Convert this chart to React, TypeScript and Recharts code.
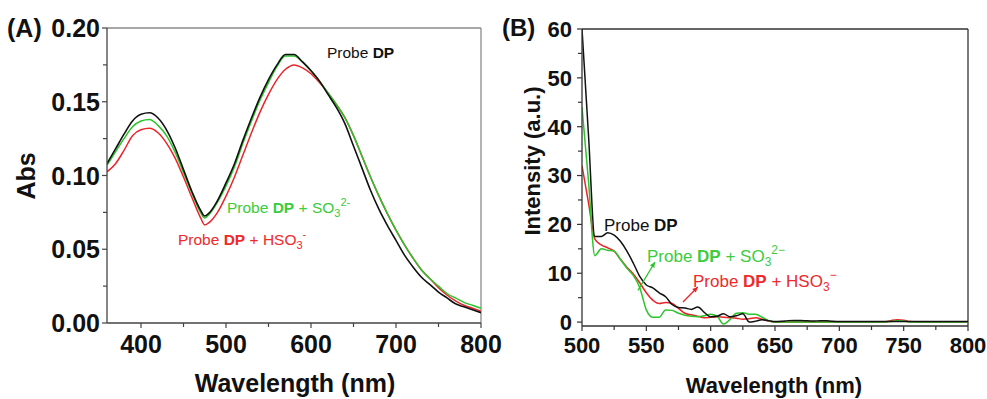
import React from "react";
import { LineChart, Line, XAxis, YAxis, ReferenceLine } from "recharts";

// ---------- Panel A: absorption ----------
const wavelengthA = [360, 370, 380, 390, 400, 410, 420, 430, 440, 450, 460, 470, 475, 480, 490, 500, 510, 520, 530, 540, 550, 560, 570, 580, 590, 600, 610, 620, 630, 640, 650, 660, 670, 680, 690, 700, 710, 720, 730, 740, 750, 760, 770, 780, 790, 800];
const absProbe = [0.108, 0.118, 0.128, 0.137, 0.1415, 0.1425, 0.139, 0.131, 0.119, 0.104, 0.089, 0.0765, 0.0725, 0.0745, 0.083, 0.095, 0.108, 0.124, 0.139, 0.153, 0.165, 0.175, 0.182, 0.182, 0.177, 0.171, 0.164, 0.155, 0.146, 0.135, 0.12, 0.105, 0.09, 0.077, 0.066, 0.056, 0.046, 0.038, 0.031, 0.026, 0.021, 0.017, 0.013, 0.011, 0.009, 0.007];
const absSO3 = [0.107, 0.116, 0.125, 0.133, 0.137, 0.138, 0.134, 0.127, 0.116, 0.102, 0.088, 0.075, 0.0712, 0.0735, 0.082, 0.093, 0.106, 0.122, 0.137, 0.151, 0.163, 0.174, 0.181, 0.181, 0.177, 0.171, 0.164, 0.156, 0.148, 0.139, 0.127, 0.113, 0.099, 0.086, 0.074, 0.063, 0.053, 0.044, 0.036, 0.03, 0.025, 0.02, 0.017, 0.014, 0.012, 0.01];
const absHSO3 = [0.1025, 0.108, 0.117, 0.127, 0.131, 0.132, 0.129, 0.122, 0.112, 0.099, 0.085, 0.0715, 0.0665, 0.068, 0.075, 0.086, 0.099, 0.114, 0.129, 0.143, 0.155, 0.165, 0.172, 0.175, 0.173, 0.169, 0.163, 0.156, 0.148, 0.139, 0.127, 0.113, 0.099, 0.086, 0.074, 0.063, 0.053, 0.044, 0.036, 0.03, 0.024, 0.019, 0.015, 0.012, 0.01, 0.008];

const majorXA = [400, 500, 600, 700, 800];
const minorXA = [450, 550, 650, 750];
const majorYA = [0, 0.05, 0.1, 0.15, 0.2];
const minorYA = [0.025, 0.075, 0.125, 0.175];

// ---------- Panel B: fluorescence ----------
const wavelengthB = [500, 505, 510, 515, 520, 525, 530, 535, 540, 545, 550, 555, 560, 565, 570, 575, 580, 585, 590, 595, 600, 605, 610, 615, 620, 625, 630, 635, 640, 645, 650, 655, 660, 665, 670, 675, 680, 685, 690, 695, 700, 705, 710, 715, 720, 725, 730, 735, 740, 745, 750, 755, 760, 765, 770, 775, 780, 785, 790, 795, 800];
const intProbe = [60, 38.5, 17.5, 17.5, 18.3, 17.8, 16.5, 14.5, 12.0, 9.3, 7.6, 7.0, 6.0, 5.2, 3.6, 3.0, 2.9, 2.6, 3.1, 2.0, 1.1, 1.2, 1.7, 1.1, 1.3, 1.7, 0.0, 0.2, 0.5, 0.3, 0.1, 0.15, 0.3, 0.35, 0.35, 0.25, 0.2, 0.3, 0.25, 0.15, 0.1, 0.1, 0.1, 0.1, 0.1, 0.1, 0.1, 0.1, 0.1, 0.1, 0.1, 0.1, 0.1, 0.1, 0.1, 0.1, 0.1, 0.1, 0.1, 0.1, 0.1];
const intSO3 = [44, 29, 13.6, 15.0, 14.7, 14.5, 12.8, 11.0, 9.5, 7.0, 2.5, 1.0, 1.0, 2.5, 2.4, 1.8, 1.4, 1.2, 1.1, 1.3, 1.6, 1.2, -0.4, 0.5, 1.8, 1.9, 1.6, 1.6, 1.0, 0.3, 0.0, 0.0, 0.0, 0.0, 0.0, 0.0, 0.0, 0.0, 0.0, 0.0, 0.0, 0.0, 0.0, 0.0, 0.0, 0.0, 0.0, 0.0, 0.1, 0.3, 0.2, 0.0, 0.0, 0.0, 0.0, 0.0, 0.0, 0.0, 0.0, 0.0, 0.0];
const intHSO3 = [32, 24.5, 17, 15.8, 15.2, 14.5, 12.8, 11.2, 9.8, 8.0, 6.0, 4.5, 3.8, 4.0, 3.8, 2.8, 1.8, 1.5, 1.2, 0.9, 1.0, 1.1, 1.0, 0.9, 0.8, 0.6, 0.7, 0.9, 0.6, 0.2, 0.0, 0.0, 0.0, 0.0, 0.0, 0.0, 0.0, 0.0, 0.0, 0.0, 0.0, 0.0, 0.0, 0.0, 0.0, 0.0, 0.0, 0.0, 0.3, 0.5, 0.4, 0.1, 0.0, 0.0, 0.0, 0.0, 0.0, 0.0, 0.0, 0.0, 0.0];

const majorXB = [500, 550, 600, 650, 700, 750, 800];
const minorXB = [525, 575, 625, 675, 725, 775];
const majorYB = [0, 10, 20, 30, 40, 50, 60];
const minorYB = [5, 15, 25, 35, 45, 55];

const dataA = wavelengthA.map((w, i) => ({ w, probe: absProbe[i], so3: absSO3[i], hso3: absHSO3[i] }));
const dataB = wavelengthB.map((w, i) => ({ w, probe: intProbe[i], so3: intSO3[i], hso3: intHSO3[i] }));

const FONT = "'Liberation Sans', Arial, sans-serif";
const BLACK = "#111111";
const GREEN = "#2bc42b";
const RED = "#e8252b";
const GREEN_T = "#3ccc3c";
const RED_T = "#ee2a2a";

const isIn = (arr: number[], v: number) => arr.some((a) => Math.abs(a - v) < 1e-9);

const makeXTick = (majors: number[], fontSize: number, labelOffset: number, color: string) => (props: any) => {
  const { x, y, payload } = props;
  const v = payload.value;
  const major = isIn(majors, v);
  return (
    <g>
      <line x1={x} y1={y} x2={x} y2={y + (major ? 5 : 4)} stroke={color} strokeWidth={1.2} />
      {major && (
        <text x={x} y={y + labelOffset} textAnchor="middle" fontSize={fontSize} fontWeight="bold" fontFamily={FONT} fill="#111">
          {v}
        </text>
      )}
    </g>
  );
};

const makeYTick = (majors: number[], fontSize: number, gap: number, color: string, fmt: (v: number) => string) => (props: any) => {
  const { x, y, payload } = props;
  const v = payload.value;
  const major = isIn(majors, v);
  return (
    <g>
      <line x1={x} y1={y} x2={x - (major ? 5 : 4)} y2={y} stroke={color} strokeWidth={1.2} />
      {major && (
        <text x={x - gap} y={y} dy="0.36em" textAnchor="end" fontSize={fontSize} fontWeight="bold" fontFamily={FONT} fill="#111">
          {fmt(v)}
        </text>
      )}
    </g>
  );
};

const ArrowShape = (color: string) => (props: any) => {
  const { x1, y1, x2, y2 } = props;
  if ([x1, y1, x2, y2].some((n) => typeof n !== "number")) return <g />;
  const ang = Math.atan2(y2 - y1, x2 - x1);
  const L = 6;
  const a1 = ang + Math.PI - 0.45;
  const a2 = ang + Math.PI + 0.45;
  return (
    <g>
      <line x1={x1} y1={y1} x2={x2} y2={y2} stroke={color} strokeWidth={1.3} />
      <path d={`M${x2},${y2} L${x2 + L * Math.cos(a1)},${y2 + L * Math.sin(a1)} L${x2 + L * Math.cos(a2)},${y2 + L * Math.sin(a2)} Z`} fill={color} />
    </g>
  );
};

const Sub = ({ children, size }: any) => (
  <tspan fontSize={size} dy={4}>{children}</tspan>
);

export default function App() {
  const axA = "#444";
  const axB = "#333";
  return (
    <div style={{ position: "absolute", left: 0, top: 0, width: 987, height: 399, background: "#fff", overflow: "hidden" }}>
      <div style={{ position: "absolute", left: 0, top: 0 }}>
        <LineChart width={530} height={399} data={dataA} margin={{ top: 28, right: 49, bottom: 36, left: 47 }}>
          <XAxis
            dataKey="w"
            type="number"
            domain={[360, 800]}
            ticks={[...majorXA, ...minorXA].sort((a, b) => a - b)}
            interval={0}
            height={40}
            tickSize={0}
            tickMargin={0}
            tickLine={false}
            axisLine={{ stroke: axA, strokeWidth: 1.3 }}
            tick={makeXTick(majorXA, 25, 30, axA)}
            allowDataOverflow
          />
          <YAxis
            type="number"
            domain={[0, 0.2]}
            ticks={[...majorYA, ...minorYA].sort((a, b) => a - b)}
            interval={0}
            width={60}
            tickSize={0}
            tickMargin={0}
            tickLine={false}
            axisLine={{ stroke: axA, strokeWidth: 1.3 }}
            tick={makeYTick(majorYA, 25, 7, axA, (v) => v.toFixed(2))}
            allowDataOverflow
          />
          <ReferenceLine y={0.2} stroke="#8a8a8a" strokeWidth={1.3} />
          <ReferenceLine x={800} stroke="#8a8a8a" strokeWidth={1.3} />
          <Line dataKey="hso3" stroke={RED} strokeWidth={1.5} dot={false} type="monotone" isAnimationActive={false} />
          <Line dataKey="so3" stroke={GREEN} strokeWidth={1.5} dot={false} type="monotone" isAnimationActive={false} />
          <Line dataKey="probe" stroke={BLACK} strokeWidth={1.6} dot={false} type="monotone" isAnimationActive={false} />
        </LineChart>
      </div>
      <div style={{ position: "absolute", left: 500, top: 0 }}>
        <LineChart width={487} height={399} data={dataB} margin={{ top: 29, right: 19, bottom: 33, left: 22 }}>
          <XAxis
            dataKey="w"
            type="number"
            domain={[500, 800]}
            ticks={[...majorXB, ...minorXB].sort((a, b) => a - b)}
            interval={0}
            height={40}
            tickSize={0}
            tickMargin={0}
            tickLine={false}
            axisLine={{ stroke: axB, strokeWidth: 1.3 }}
            tick={makeXTick(majorXB, 22, 27, axB)}
            allowDataOverflow
          />
          <YAxis
            type="number"
            domain={[-0.8, 60]}
            ticks={[...majorYB, ...minorYB].sort((a, b) => a - b)}
            interval={0}
            width={60}
            tickSize={0}
            tickMargin={0}
            tickLine={false}
            axisLine={{ stroke: axB, strokeWidth: 1.3 }}
            tick={makeYTick(majorYB, 22, 10, axB, (v) => String(v))}
            allowDataOverflow
          />
          <ReferenceLine y={60} stroke="#333" strokeWidth={1.3} />
          <ReferenceLine x={800} stroke="#333" strokeWidth={1.3} />
          <Line dataKey="hso3" stroke={RED} strokeWidth={1.5} dot={false} type="monotone" isAnimationActive={false} />
          <Line dataKey="so3" stroke={GREEN} strokeWidth={1.5} dot={false} type="monotone" isAnimationActive={false} />
          <Line dataKey="probe" stroke={BLACK} strokeWidth={1.5} dot={false} type="monotone" isAnimationActive={false} />
          <ReferenceLine segment={[{ x: 543.5, y: 6.5 }, { x: 556.7, y: 12.3 }]} shape={ArrowShape(GREEN)} ifOverflow="visible" />
          <ReferenceLine segment={[{ x: 578.5, y: 4.1 }, { x: 590, y: 7.2 }]} shape={ArrowShape(RED)} ifOverflow="visible" />
        </LineChart>
      </div>
      <svg width={987} height={399} style={{ position: "absolute", left: 0, top: 0, pointerEvents: "none" }} fontFamily={FONT}>
        {/* Panel letters */}
        <text x={7} y={37} fontSize={25} fontWeight="bold" fill="#111">(A)</text>
        <text x={502} y={36} fontSize={24} fontWeight="bold" fill="#111">(B)</text>
        {/* Axis titles */}
        <text x={295} y={392} fontSize={25} fontWeight="bold" textAnchor="middle" fill="#111">Wavelength (nm)</text>
        <text transform="translate(35,176) rotate(-90)" fontSize={25} fontWeight="bold" textAnchor="middle" fill="#111">Abs</text>
        <text x={774} y={393} fontSize={22} fontWeight="bold" textAnchor="middle" fill="#111">Wavelength (nm)</text>
        <text transform="translate(540,161) rotate(-90)" fontSize={22} fontWeight="bold" textAnchor="middle" fill="#111">Intensity (a.u.)</text>
        {/* Panel A labels */}
        <text x={327} y={58} fontSize={15.5} fill="#111">
          Probe <tspan fontWeight="bold">DP</tspan>
        </text>
        <text x={227} y={213} fontSize={15.5} fill={GREEN_T}>
          Probe <tspan fontWeight="bold">DP</tspan> + SO<Sub size={11}>3</Sub>
          <tspan fontSize={11} dy={-11}>2-</tspan>
        </text>
        <text x={178} y={245} fontSize={15.5} fill={RED_T}>
          Probe <tspan fontWeight="bold">DP</tspan> + HSO<Sub size={11}>3</Sub>
          <tspan fontSize={11} dy={-11}>-</tspan>
        </text>
        {/* Panel B labels */}
        <text x={604} y={231} fontSize={17} fill="#111">
          Probe <tspan fontWeight="bold">DP</tspan>
        </text>
        <text x={647} y={262} fontSize={17} fill={GREEN_T}>
          Probe <tspan fontWeight="bold">DP</tspan> + SO<Sub size={12}>3</Sub>
          <tspan fontSize={12} dy={-12}>2−</tspan>
        </text>
        <text x={693} y={287} fontSize={17} fill={RED_T}>
          Probe <tspan fontWeight="bold">DP</tspan> + HSO<Sub size={12}>3</Sub>
          <tspan fontSize={12} dy={-12}>−</tspan>
        </text>
      </svg>
    </div>
  );
}
